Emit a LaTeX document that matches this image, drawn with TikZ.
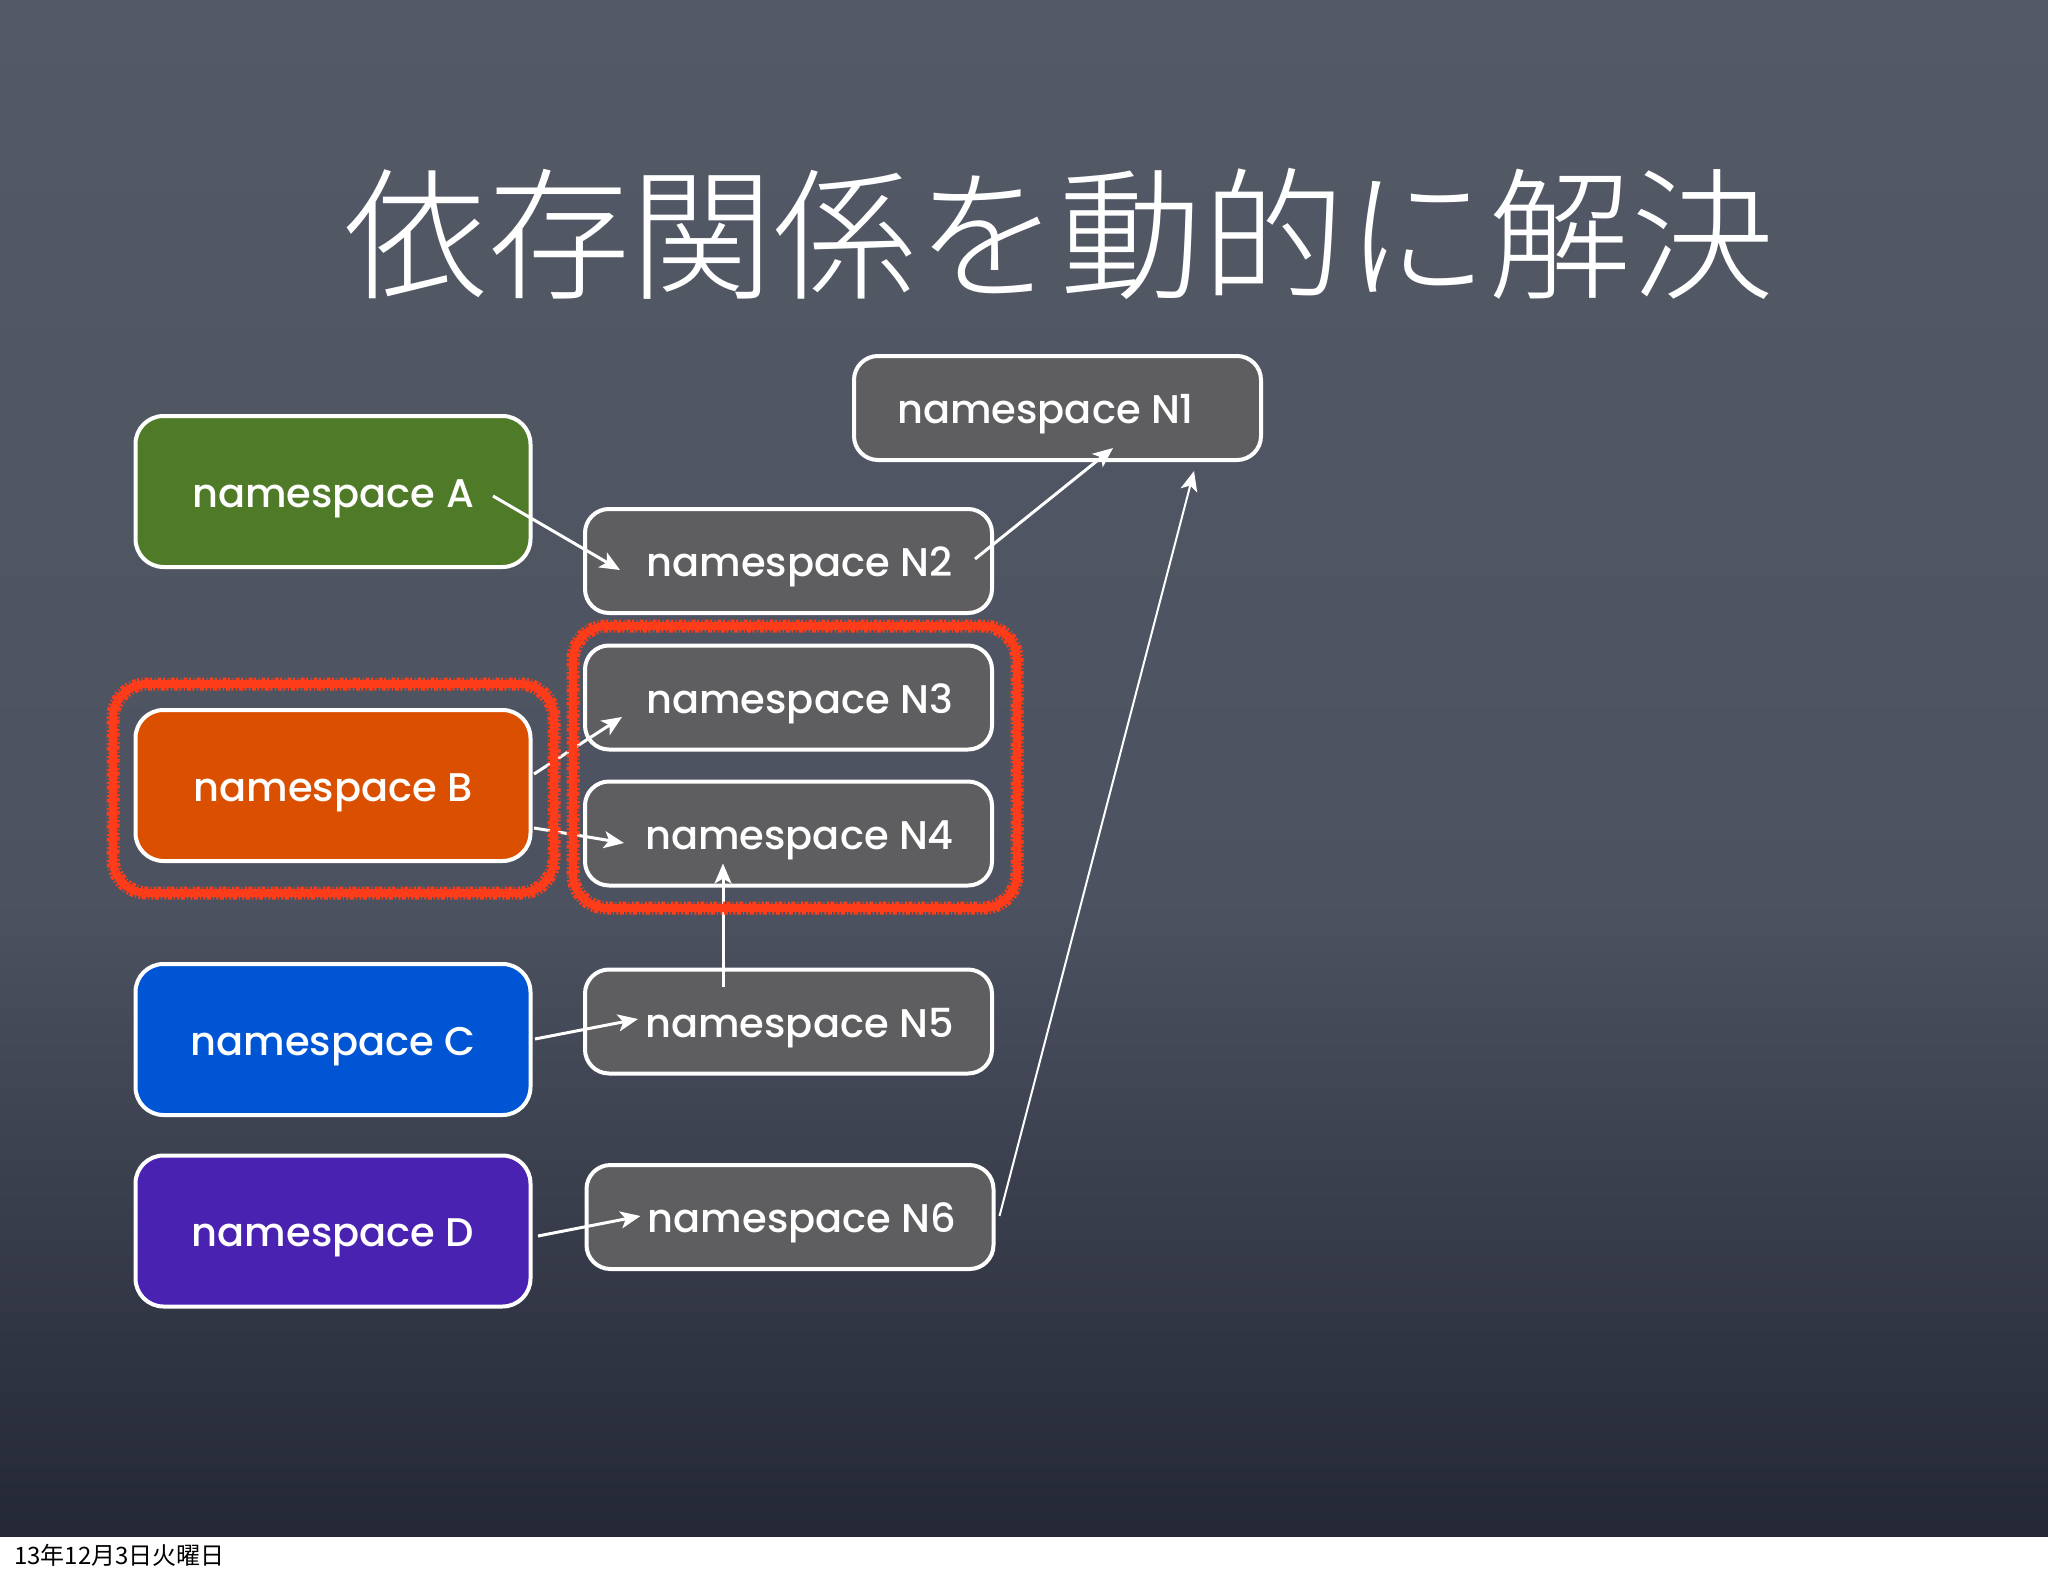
\documentclass[tikz,border=0pt]{standalone}
\usepackage{fontspec}
\setmainfont{Poppins}
\newfontfamily\nsfont{Poppins Medium}
\newfontfamily\cjk{Noto Sans CJK JP}
\newfontfamily\cjktitle{Noto Sans CJK JP Light}
\usetikzlibrary{arrows.meta}
\definecolor{bgtop}{RGB}{84,89,102}
\definecolor{bgmid}{RGB}{77,82,96}
\definecolor{bgbot}{RGB}{36,40,54}
\definecolor{nsgreen}{RGB}{79,122,40}
\definecolor{nsorange}{RGB}{218,80,0}
\definecolor{nsblue}{RGB}{0,85,213}
\definecolor{nspurple}{RGB}{74,34,178}
\definecolor{nsgray}{RGB}{94,94,97}
\definecolor{hlred}{RGB}{255,60,25}
\tikzset{
  nsbox/.style={draw=white, line width=4pt, rounded corners=28pt, text=white,
    font=\nsfont\fontsize{40}{48}\selectfont, minimum width=395pt, minimum height=151pt,
    inner sep=0pt, text height=40pt, text depth=9pt},
  nbox/.style={nsbox, fill=nsgray, rounded corners=24pt, minimum width=407pt, minimum height=104pt},
  arr/.style={draw=white, line width=3pt, -{Stealth[length=20pt,width=17pt,inset=5pt]}},
  thinarr/.style={arr, line width=2pt},
  hl/.style={draw=hlred, line width=8pt, rounded corners=34pt},
  hlfuzz/.style={draw=hlred, line width=3pt, dash pattern=on 2pt off 1.5pt on 4pt off 2pt on 1pt off 2.5pt},
}
\begin{document}
\begin{tikzpicture}[x=1pt,y=-1pt]
\useasboundingbox (0,0) rectangle (2048,1576);
\fill[white] (0,0) rectangle (2048,1576);
\shade[top color=bgtop, bottom color=bgmid] (0,0) rectangle (2048,900);
\shade[top color=bgmid, bottom color=bgbot] (0,900) rectangle (2048,1536);

\node[text=white, font=\cjktitle\fontsize{143}{150}\selectfont, inner sep=0pt] (title) at (1059,234) {依存関係を動的に解決};

\node[nsbox, fill=nsgreen] (A) at (333,491.5) {namespace A};
\node[nsbox, fill=nsorange] (B) at (333,785.5) {namespace B};
\node[nsbox, fill=nsblue] (C) at (333,1039.5) {namespace C};
\node[nsbox, fill=nspurple] (D) at (333,1231) {namespace D};

\node[nbox] (N1) at (1057.5,408) {namespace N1\hspace*{24pt}};
\node[nbox] (N2) at (788.5,561) {\hspace*{22pt}namespace N2};
\node[nbox] (N3) at (788.5,697.5) {\hspace*{22pt}namespace N3};
\node[nbox] (N4) at (788.5,833.5) {\hspace*{22pt}namespace N4};
\node[nbox] (N5) at (788.5,1021.5) {\hspace*{22pt}namespace N5};
\node[nbox] (N6) at (790,1217) {\hspace*{24pt}namespace N6};

\draw[arr] ([xshift=-39.5pt,yshift=-4.5pt]A.east) -- ([xshift=37pt,yshift=-9pt]N2.west);
\draw[arr] ([xshift=-19pt,yshift=2pt]N2.east) -- ([xshift=55.5pt,yshift=14pt]N1.south);
\draw[thinarr] ([xshift=4pt,yshift=1pt]N6.east) -- ([xshift=136.5pt,yshift=-9pt]N1.south);
\draw[arr] ([xshift=1.5pt,yshift=11.5pt]B.east) -- ([xshift=39pt,yshift=-19.5pt]N3.west);
\draw[arr] ([xshift=1.5pt,yshift=-42.5pt]B.east) -- ([xshift=41pt,yshift=-9.5pt]N4.west);
\draw[arr] ([xshift=-65.5pt,yshift=-19pt]N5.north) -- ([xshift=-65.5pt,yshift=24pt]N4.south);
\draw[arr] ([xshift=2.5pt,yshift=0.5pt]C.east) -- ([xshift=55pt,yshift=2.5pt]N5.west);
\draw[arr] ([xshift=5.5pt,yshift=-5pt]D.east) -- ([xshift=56pt,yshift=1pt]N6.west);

% highlight around B
\draw[hl] (113,684) rectangle (554,893);
\draw[hlfuzz, rounded corners=38pt] (108,679) rectangle (559,898);
\draw[hlfuzz, rounded corners=30pt, dash phase=3pt] (118,689) rectangle (549,888);
% highlight around N3 and N4
\draw[hl] (573,626) rectangle (1017,908);
\draw[hlfuzz, rounded corners=38pt] (568,621) rectangle (1022,913);
\draw[hlfuzz, rounded corners=30pt, dash phase=3pt] (578,631) rectangle (1012,903);

\node[anchor=west, text=black, font=\cjk\fontsize{24}{28}\selectfont, inner sep=0pt] (foot) at (14,1555) {13年12月3日火曜日};
\end{tikzpicture}
\end{document}
